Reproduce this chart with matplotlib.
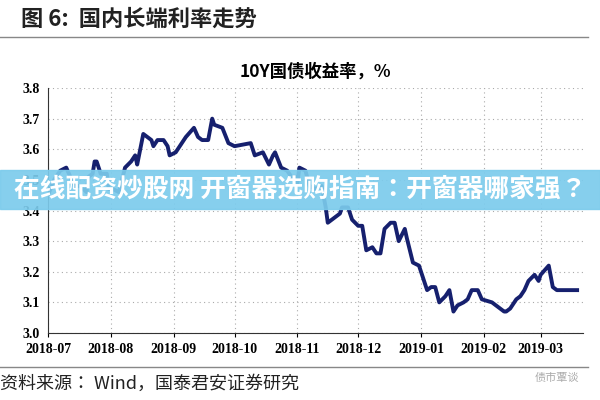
import matplotlib
matplotlib.use("Agg")
import matplotlib.pyplot as plt
import datetime as dt

days = [0,3,6,9,11,13,16,19,20,22,23,24,26,29,30,32,35,38,41,43,44,47,49,51,52,54,57,59,60,63,65,68,72,74,76,79,81,82,86,89,92,100,102,106,109,111,112,115,118,120,122,123,124,127,129,132,135,137,138,142,144,145,148,150,153,155,157,160,162,164,166,169,171,173,176,177,180,183,187,189,191,193,196,198,200,202,205,207,209,212,214,219,225,226,228,231,233,235,237,240,242,243,247,249,251,255,256,258,261]
yields = [3.45,3.50,3.53,3.54,3.51,3.48,3.48,3.46,3.51,3.52,3.56,3.56,3.52,3.52,3.47,3.47,3.46,3.54,3.56,3.58,3.55,3.65,3.64,3.63,3.61,3.63,3.63,3.61,3.58,3.59,3.61,3.64,3.67,3.64,3.63,3.63,3.70,3.68,3.67,3.62,3.61,3.62,3.58,3.59,3.55,3.58,3.59,3.54,3.53,3.51,3.51,3.49,3.54,3.53,3.48,3.47,3.48,3.41,3.36,3.38,3.39,3.41,3.41,3.37,3.35,3.35,3.27,3.28,3.26,3.26,3.34,3.36,3.36,3.30,3.34,3.31,3.23,3.22,3.14,3.15,3.15,3.10,3.12,3.14,3.07,3.09,3.10,3.11,3.14,3.14,3.11,3.10,3.07,3.07,3.08,3.11,3.12,3.14,3.17,3.19,3.17,3.19,3.22,3.15,3.14,3.14,3.14,3.14,3.14]
month_ticks = ["2018-07","2018-08","2018-09","2018-10","2018-11","2018-12","2019-01","2019-02","2019-03"]
y_ticks = [3.0,3.1,3.2,3.3,3.4,3.5,3.6,3.7,3.8]

start = dt.date(2018,7,1)
dates = [start + dt.timedelta(days=d) for d in days]
tick_dates = [dt.datetime.strptime(m, "%Y-%m").date() for m in month_ticks]

cjk = ["Noto Sans CJK SC", "Noto Sans CJK JP", "DejaVu Sans"]
serif = "Liberation Serif"

fig = plt.figure(figsize=(6,4), dpi=100)
ax = fig.add_axes([0.08, 0.1675, 0.892, 0.6125])
ax.plot(dates, yields, color="#16206e", lw=2.8, solid_joinstyle="round")
ax.set_ylim(3.0, 3.8)
ax.set_xlim(start, start + dt.timedelta(days=264))
ax.set_yticks(y_ticks)
ax.set_yticklabels([f"{v:.1f}" for v in y_ticks], fontfamily=serif, fontweight="bold", fontsize=10)
ax.set_xticks(tick_dates)
ax.set_xticklabels(month_ticks, fontfamily=serif, fontweight="bold", fontsize=10)
ax.grid(True, color="#aaaaaa", linestyle=(0,(1,3)), lw=0.8)
for s in ["top","right"]:
    ax.spines[s].set_visible(False)
for s in ["left","bottom"]:
    ax.spines[s].set_color("#333333")
ax.tick_params(axis="y", length=0, pad=6)
ax.tick_params(axis="x", length=3, direction="out", pad=4)
ax.set_title("10Y国债收益率，%", fontfamily=cjk, fontweight="bold", fontsize=12.5, pad=8)

fig.text(0.035, 0.953, "图 6:  国内长端利率走势", fontfamily=cjk, fontweight="bold", fontsize=16, va="center", color="#222222")
fig.add_artist(plt.Line2D([0, 0.98], [0.908, 0.908], color="#888888", lw=1))
fig.add_artist(plt.Line2D([0, 0.98], [0.082, 0.082], color="#888888", lw=1))
fig.text(0.0, 0.04, "资料来源： Wind，国泰君安证券研究", fontfamily=cjk, fontsize=13, va="center", color="#222222")
fig.text(0.965, 0.055, "债市覃谈", fontfamily=cjk, fontsize=8, va="center", ha="right", color="#aaaaaa")

fig.patches.append(plt.Rectangle((0, 0.478), 1, 0.098, transform=fig.transFigure, color="#7ccbec", alpha=0.92, zorder=5))
fig.text(0.5, 0.527, "在线配资炒股网 开窗器选购指南：开窗器哪家强？", fontfamily=cjk, fontweight="bold", fontsize=18.5, color="white", ha="center", va="center", zorder=6)

fig.savefig("out.png")
